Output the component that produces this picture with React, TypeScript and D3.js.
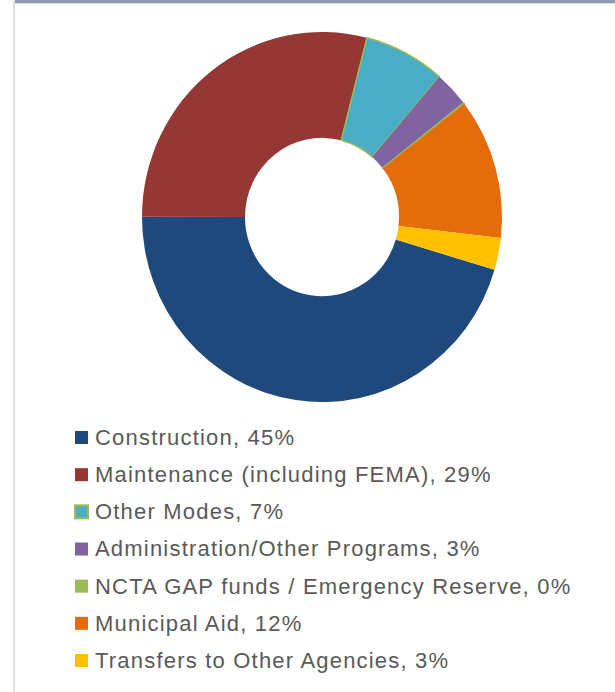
import React from "react";
import * as d3 from "d3";

const categories = [
  "Construction",
  "Maintenance (including FEMA)",
  "Other Modes",
  "Administration/Other Programs",
  "NCTA GAP funds / Emergency Reserve",
  "Municipal Aid",
  "Transfers to Other Agencies",
];
const values = [45.4, 29.0, 7.3, 3.1, 0.1, 12.3, 2.8];
const labels = ["45%", "29%", "7%", "3%", "0%", "12%", "3%"];
const colors = ["#1F497D", "#953735", "#4BACC6", "#8064A2", "#9BBB59", "#E46C0A", "#FFC000"];
const strokes = ["none", "none", "#9BBB59", "none", "#9BBB59", "none", "none"];

export default function App() {
  const W = 615;
  const H = 692;
  const cx = 322;
  const cy = 217;
  const rOuter = 180;
  const rInner = 77;
  const yScale = 185 / 180;
  const start = (106.6 * Math.PI) / 180;

  const pie = d3
    .pie<number>()
    .sort(null)
    .value((d) => d)
    .startAngle(start)
    .endAngle(start + 2 * Math.PI);
  const arcs = pie(values);
  const arc = d3.arc<d3.PieArcDatum<number>>().innerRadius(rInner).outerRadius(rOuter);

  const legendY = d3.scaleLinear().domain([0, categories.length - 1]).range([437, 660]);

  return (
    <svg
      width={W}
      height={H}
      style={{ position: "absolute", left: 0, top: 0, display: "block" }}
      fontFamily="'Liberation Sans', Arial, sans-serif"
    >
      <rect x={0} y={0} width={W} height={H} fill="#ffffff" />
      <rect x={13} y={0} width={W - 13} height={3} fill="#8A9DB5" />
      <rect x={13} y={3} width={W - 13} height={1} fill="#D5DCE6" />
      <rect x={13} y={0} width={2} height={H} fill="#E2E2E2" />
      <g transform={`translate(${cx},${cy}) scale(1,${yScale})`}>
        {arcs.map((a, i) => (
          <path
            key={i}
            d={arc(a) || ""}
            fill={colors[i]}
            stroke={strokes[i]}
            strokeWidth={strokes[i] === "none" ? 0 : 1.5}
            strokeLinejoin="round"
          />
        ))}
      </g>
      <g>
        {categories.map((c, i) => {
          const y = legendY(i);
          return (
            <g key={c}>
              <rect
                x={75}
                y={y - 6}
                width={13}
                height={13}
                fill={colors[i]}
                stroke={i === 2 ? "#9BBB59" : "none"}
                strokeWidth={i === 2 ? 2 : 0}
              />
              <text
                x={95}
                y={y}
                dy="0.36em"
                fontSize={22}
                letterSpacing={1.2}
                fill="#595959"
              >
                {`${c}, ${labels[i]}`}
              </text>
            </g>
          );
        })}
      </g>
    </svg>
  );
}
